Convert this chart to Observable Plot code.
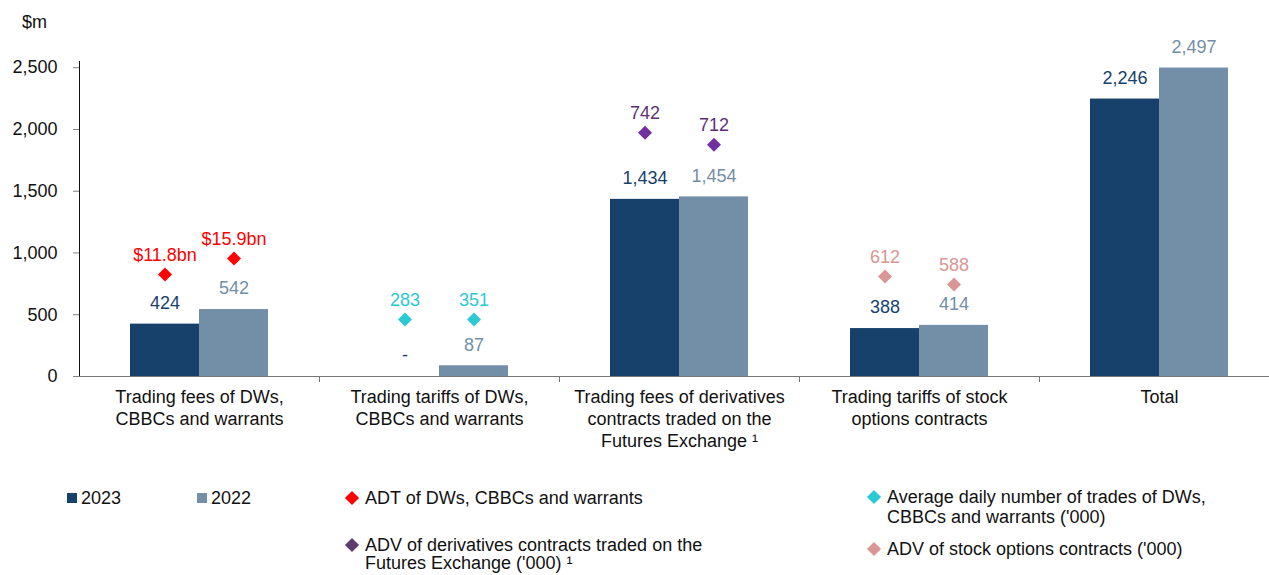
<!DOCTYPE html>
<html>
<head>
<meta charset="utf-8">
<script src="https://cdn.jsdelivr.net/npm/d3@7"></script>
<script src="https://cdn.jsdelivr.net/npm/@observablehq/plot@0.6"></script>
<style>
  html, body { margin: 0; padding: 0; background: #fff; }
  body { font-family: "Liberation Sans", Arial, sans-serif; color: #111; }
  #wrap { position: relative; width: 1269px; height: 575px; overflow: hidden; }
  #chart { position: absolute; left: 0; top: 0; }
  .unit { position: absolute; left: 22px; top: 11px; font-size: 18px; line-height: 22px; }
  .lg { position: absolute; font-size: 18px; line-height: 20px; white-space: nowrap; color: #111; }
  .sq { position: absolute; width: 10px; height: 10px; }
  .dm { position: absolute; width: 10px; height: 10px; transform: rotate(45deg); }
  svg [aria-label^="y-axis"] path, svg [aria-label^="y-axis"] line { stroke: #808080; }
</style>
</head>
<body>
<div id="wrap">
  <div id="chart"></div>
  <div class="unit">$m</div>
  <div id="legend"></div>
</div>
<script>
// ---- data ----
const categories = [
  "Trading fees of DWs,\nCBBCs and warrants",
  "Trading tariffs of DWs,\nCBBCs and warrants",
  "Trading fees of derivatives\ncontracts traded on the\nFutures Exchange \u00b9",
  "Trading tariffs of stock\noptions contracts",
  "Total"
];
const years = ["2023", "2022"];
const values2023 = [424, 0, 1434, 388, 2246];
const values2022 = [542, 87, 1454, 414, 2497];
const yTicks = [0, 500, 1000, 1500, 2000, 2500];

const markerSeries = [
  "ADT of DWs, CBBCs and warrants",
  "Average daily number of trades of DWs,\nCBBCs and warrants ('000)",
  "ADV of derivatives contracts traded on the\nFutures Exchange ('000) \u00b9",
  "ADV of stock options contracts ('000)"
];
const markerLabels2023 = ["$11.8bn", "283", "742", "612"];
const markerLabels2022 = ["$15.9bn", "351", "712", "588"];
// height of each marker as read on the chart's $m axis
const markerLevel2023 = [825, 461, 1974, 809];
const markerLevel2022 = [955, 461, 1877, 744];

const barColors = ["#17416A", "#738FA7"];
const markerColors = ["#FF0000", "#2CC9D4", "#7030A0", "#D99694"];
const markerTextColors = ["#FF0000", "#2CC9D4", "#5E2F74", "#D99694"];
const legendMarkerColors = ["#FF0000", "#2CC9D4", "#5F3B72", "#D99694"];

// ---- tables ----
const bars = [];
categories.forEach((c, i) => {
  bars.push({cat: c, year: "2023", value: values2023[i]});
  bars.push({cat: c, year: "2022", value: values2022[i]});
});
const markers = [];
markerSeries.forEach((s, i) => {
  markers.push({cat: categories[i], year: "2023", level: markerLevel2023[i], label: markerLabels2023[i], series: i});
  markers.push({cat: categories[i], year: "2022", level: markerLevel2022[i], label: markerLabels2022[i], series: i});
});

const fmt = d3.format(",");
const markerMarks = [];
markerSeries.forEach((s, i) => {
  const rows = markers.filter(d => d.series === i);
  markerMarks.push(Plot.dot(rows, {fx: "cat", x: "year", y: "level", symbol: "diamond2", r: 6.3, fill: markerColors[i], stroke: "none"}));
  markerMarks.push(Plot.text(rows, {fx: "cat", x: "year", y: "level", text: "label", dy: -19, fill: markerTextColors[i], fontSize: 18}));
});

const plot = Plot.plot({
  width: 1269,
  height: 470,
  marginLeft: 79,
  marginRight: -10,
  marginTop: 61,
  marginBottom: 94,
  style: {fontFamily: '"Liberation Sans", Arial, sans-serif', fontSize: "18px", background: "transparent", color: "#111", overflow: "visible"},
  fx: {domain: categories, padding: 0, label: null},
  x: {domain: years, paddingInner: 0, paddingOuter: 0.739, axis: null},
  y: {domain: [0, 2550], ticks: yTicks, tickFormat: fmt, tickSize: 6, tickPadding: 16, line: true, label: null},
  color: {domain: years, range: barColors},
  marks: [
    Plot.axisFx({anchor: "bottom", tickSize: 0, tickPadding: 11, label: null, lineHeight: 1.21, fontSize: 18}),
    Plot.barY(bars, {fx: "cat", x: "year", y: "value", fill: "year"}),
    Plot.ruleY([0], {stroke: "#767676"}),
    Plot.text(bars, {fx: "cat", x: "year", y: "value", text: d => d.value === 0 ? "-" : fmt(d.value), dy: -21, fill: "year", fontSize: 18}),
    ...markerMarks
  ]
});
document.getElementById("chart").appendChild(plot);

// category boundary ticks below the baseline, placed with Plot's own scales
const fxs = plot.scale("fx"), ys = plot.scale("y");
const y0 = ys.apply(0);
const svg = d3.select(plot);
categories.slice(1).forEach(c => {
  const x = Math.round(fxs.apply(c)) + 0.5;
  svg.append("line").attr("x1", x).attr("x2", x).attr("y1", y0).attr("y2", y0 + 6).attr("stroke", "#767676");
});

// ---- legend (HTML, below the plot) ----
const legend = document.getElementById("legend");
function add(html) { legend.insertAdjacentHTML("beforeend", html); }
add(`<div class="sq" style="left:67px;top:493px;background:${barColors[0]}"></div><div class="lg" style="left:81px;top:488px">${years[0]}</div>`);
add(`<div class="sq" style="left:197px;top:493px;background:${barColors[1]}"></div><div class="lg" style="left:211px;top:488px">${years[1]}</div>`);
const legendPos = [
  {dx: 352, dy: 498, tx: 365, ty: 488, lh: 20},
  {dx: 874, dy: 497, tx: 887, ty: 487, lh: 20},
  {dx: 352, dy: 545, tx: 365, ty: 536, lh: 18},
  {dx: 874, dy: 549, tx: 887, ty: 539, lh: 20}
];
markerSeries.forEach((s, i) => {
  const p = legendPos[i];
  add(`<div class="dm" style="left:${p.dx - 5}px;top:${p.dy - 5}px;background:${legendMarkerColors[i]}"></div>` +
      `<div class="lg" style="left:${p.tx}px;top:${p.ty}px;line-height:${p.lh}px">${s.replace(/\n/g, "<br>")}</div>`);
});
</script>
</body>
</html>
